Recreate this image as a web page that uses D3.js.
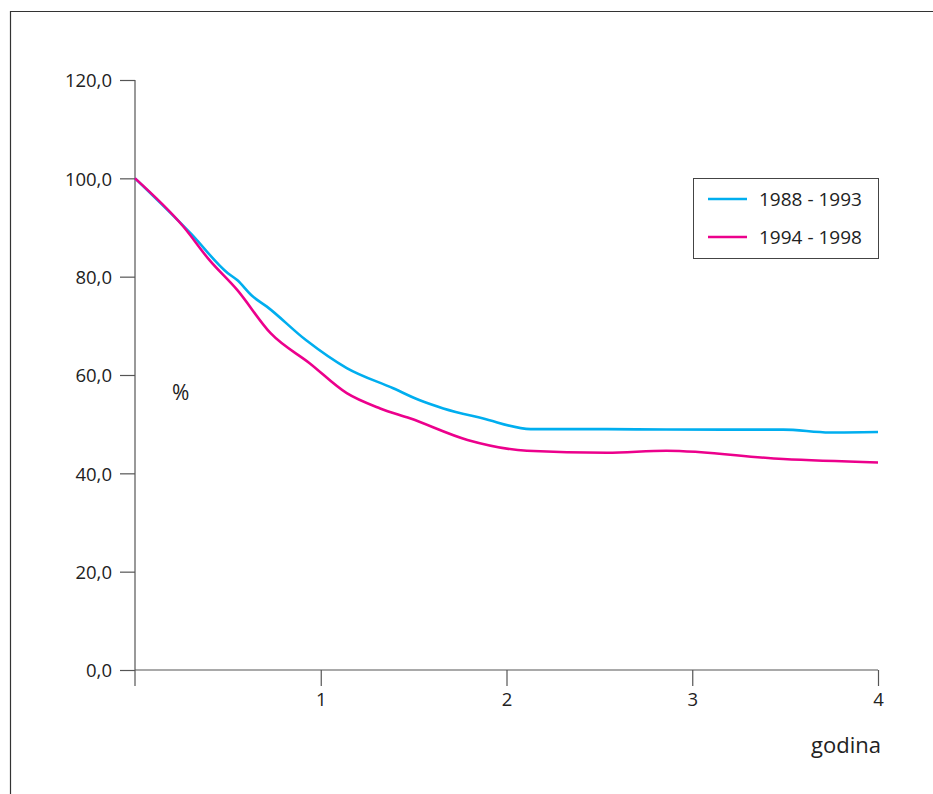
<!DOCTYPE html>
<html lang="hr">
<head>
  <meta charset="UTF-8" />
  <title>Postotak po godinama</title>
  <script src="https://d3js.org/d3.v7.min.js"></script>
  <style>
    body { margin: 0; background: #fff; }
    svg { display: block; font-family: 'Open Sans', sans-serif; }
    .domain, .tick line { stroke: #555; stroke-width: 1.2px; }
    .lbl { fill: #222; }
    .leg { font-size: 19px; fill: #222; }
  </style>
</head>
<body>
<svg width="933" height="794"></svg>
<script>
// godine (x) i postoci (y), očitano sa slike
const years1 = [0, 0.30, 0.50, 0.55, 0.63, 0.71, 0.92, 1.14, 1.39, 1.53, 1.66, 1.87, 2.13, 2.54, 2.86, 3.49, 3.74, 4.0];
const vals1  = [100, 88.8, 80.7, 79.3, 76.1, 73.9, 67.1, 61.4, 57.3, 54.9, 53.2, 51.2, 49.0, 49.0, 48.9, 48.9, 48.3, 48.4];
const years2 = [0, 0.26, 0.40, 0.55, 0.73, 0.94, 1.14, 1.32, 1.48, 1.79, 2.11, 2.54, 2.86, 3.49, 4.0];
const vals2  = [100, 90.2, 83.4, 77.3, 68.5, 62.4, 56.3, 53.2, 51.2, 46.8, 44.6, 44.2, 44.6, 42.9, 42.2];
const seriesNames = ["1988 - 1993", "1994 - 1998"];
const colors = ["#00aeef", "#ec008c"];
const yTicks = [0, 20, 40, 60, 80, 100, 120];
const xTicks = [1, 2, 3, 4];

const svg = d3.select("svg");

// okvir
svg.append("path")
  .attr("d", "M10.5,794 V11.5 H933")
  .attr("fill", "none")
  .attr("stroke", "#333")
  .attr("stroke-width", 1.2);

const x = d3.scaleLinear().domain([0, 4]).range([135, 878]);
const y = d3.scaleLinear().domain([0, 120]).range([670, 80]);

const fmt = d => d3.format(".1f")(d).replace(".", ",");

svg.append("g")
  .attr("transform", "translate(135,0)")
  .call(d3.axisLeft(y).tickValues(yTicks).tickFormat(fmt).tickSize(15).tickSizeOuter(0).tickPadding(8))
  .call(g => g.select(".domain").attr("d", `M0,${y(120)}V686`))
  .call(g => g.selectAll(".tick text").attr("dy", "0.36em"));

svg.append("g")
  .attr("transform", "translate(0,670)")
  .call(d3.axisBottom(x).tickValues(xTicks).tickFormat(d3.format("d")).tickSize(16).tickSizeOuter(0).tickPadding(7))
  .call(g => g.select(".domain").attr("d", `M${x(0)},0H${x(4)}`));

svg.selectAll("g").attr("font-family", null).attr("font-size", 18.5);
svg.selectAll(".tick text").attr("fill", "#222");

const line = d3.line()
  .x(d => x(d[0]))
  .y(d => y(d[1]))
  .curve(d3.curveMonotoneX);

const data = [
  years1.map((t, i) => [t, vals1[i]]),
  years2.map((t, i) => [t, vals2[i]])
];

svg.selectAll("path.series")
  .data(data)
  .enter()
  .append("path")
  .attr("class", "series")
  .attr("fill", "none")
  .attr("stroke", (d, i) => colors[i])
  .attr("stroke-width", 2.6)
  .attr("d", line);

svg.append("text").attr("class", "lbl").attr("x", 172).attr("y", 400)
  .attr("font-size", 21).text("%");
svg.append("text").attr("class", "lbl").attr("x", 881).attr("y", 753)
  .attr("font-size", 22)
  .attr("text-anchor", "end").text("godina");

// legenda
const leg = svg.append("g").attr("transform", "translate(693,178)");
leg.append("rect")
  .attr("x", 0.5).attr("y", 0.5).attr("width", 185).attr("height", 80)
  .attr("fill", "#fff").attr("stroke", "#444").attr("stroke-width", 1);
seriesNames.forEach((n, i) => {
  const yy = 21 + i * 38;
  leg.append("line").attr("x1", 15).attr("x2", 54).attr("y1", yy).attr("y2", yy)
    .attr("stroke", colors[i]).attr("stroke-width", 2.6);
  leg.append("text").attr("class", "leg").attr("x", 66).attr("y", yy + 7).text(n);
});
</script>
</body>
</html>
